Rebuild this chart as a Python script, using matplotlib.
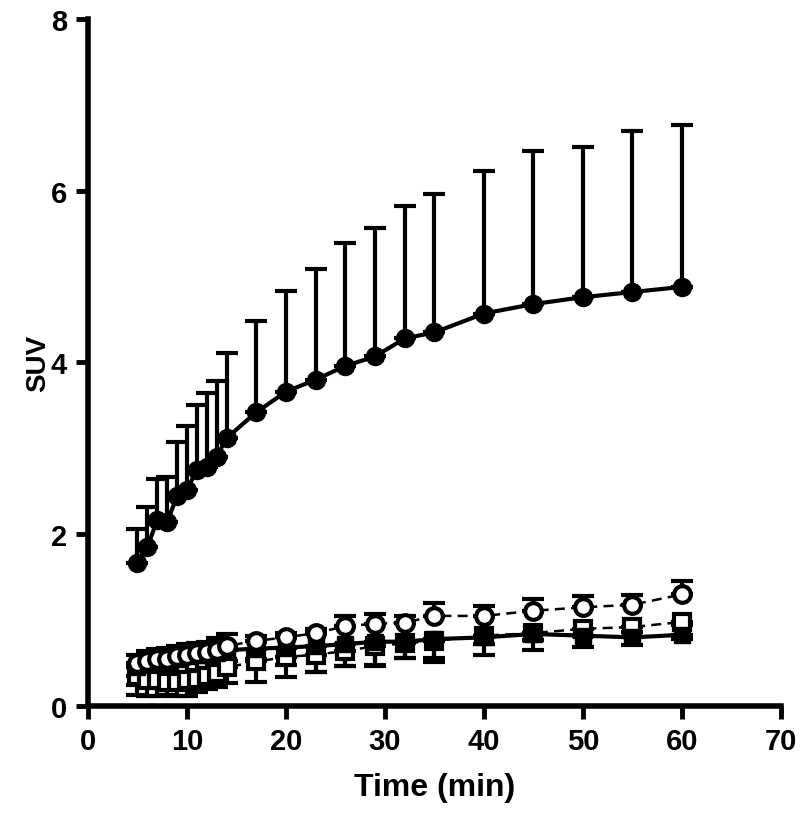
import matplotlib
matplotlib.use("Agg")
import matplotlib.pyplot as plt

# time points (min)
time = [5, 6, 7, 8, 9, 10, 11, 12, 13, 14, 17, 20, 23, 26, 29, 32, 35, 40, 45, 50, 55, 60]

# high uptake group (filled circles), mean and SD (shown upward only)
high_mean = [1.67, 1.85, 2.17, 2.14, 2.45, 2.52, 2.75, 2.78, 2.90, 3.12, 3.42, 3.66,
             3.80, 3.96, 4.07, 4.28, 4.35, 4.57, 4.68, 4.76, 4.82, 4.88]
high_top = [2.06, 2.32, 2.64, 2.67, 3.07, 3.26, 3.50, 3.64, 3.78, 4.11, 4.48, 4.83,
            5.09, 5.39, 5.57, 5.82, 5.96, 6.23, 6.46, 6.51, 6.69, 6.77]

# open circles (dashed)
circ_mean = [0.50, 0.52, 0.55, 0.55, 0.58, 0.60, 0.62, 0.63, 0.65, 0.70, 0.76, 0.80,
             0.85, 0.93, 0.96, 0.97, 1.05, 1.05, 1.11, 1.15, 1.18, 1.30]
circ_sd = [0.10, 0.12, 0.12, 0.13, 0.12, 0.12, 0.12, 0.12, 0.14, 0.14, 0.06, 0.05,
           0.05, 0.12, 0.11, 0.08, 0.15, 0.11, 0.14, 0.13, 0.11, 0.16]

# open squares (dashed)
osq_mean = [0.35, 0.30, 0.30, 0.28, 0.28, 0.30, 0.32, 0.35, 0.38, 0.45, 0.52, 0.57,
            0.60, 0.64, 0.70, 0.73, 0.76, 0.82, 0.85, 0.90, 0.92, 0.98]
osq_sd = [0.22, 0.18, 0.18, 0.15, 0.16, 0.18, 0.16, 0.15, 0.16, 0.18, 0.24, 0.23,
          0.20, 0.17, 0.22, 0.17, 0.20, 0.10, 0.08, 0.08, 0.06, 0.04]

# filled squares (solid)
fsq_mean = [0.45, 0.50, 0.52, 0.50, 0.55, 0.58, 0.60, 0.60, 0.62, 0.65, 0.67, 0.68,
            0.70, 0.72, 0.75, 0.75, 0.78, 0.80, 0.84, 0.82, 0.80, 0.83]
fsq_sd = [0.20, 0.22, 0.20, 0.18, 0.20, 0.18, 0.18, 0.16, 0.15, 0.12, 0.12, 0.20,
          0.30, 0.25, 0.28, 0.19, 0.27, 0.20, 0.19, 0.13, 0.09, 0.05]

plt.rcParams['font.family'] = ['Liberation Sans', 'DejaVu Sans']
plt.rcParams['font.weight'] = 'bold'

fig = plt.figure(figsize=(8, 8.28), dpi=100)
ax = fig.add_axes([0.11, 0.146, 0.866, 0.83])

lw = 3
cap = 8
high_up = [t - m for t, m in zip(high_top, high_mean)]

# low groups first
ax.errorbar(time, osq_mean, yerr=[osq_sd, [0] * len(time)], color='black', lw=1.8,
            ls=(0, (4, 2.5)), marker='s', ms=11, mfc='white', mec='black', mew=3,
            elinewidth=lw, capsize=cap, capthick=lw)
ax.errorbar(time, fsq_mean, yerr=[fsq_sd, [0] * len(time)], color='black', lw=lw,
            marker='s', ms=12, mfc='black', mec='black',
            elinewidth=lw, capsize=cap, capthick=lw)
ax.errorbar(time, circ_mean, yerr=[[0] * len(time), circ_sd], color='black', lw=1.8,
            ls=(0, (4, 2.5)), marker='o', ms=12, mfc='white', mec='black', mew=3,
            elinewidth=lw, capsize=cap, capthick=lw)
ax.errorbar(time, high_mean, yerr=[[0] * len(time), high_up], color='black', lw=lw,
            marker='o', ms=13, mfc='black', mec='black',
            elinewidth=lw, capsize=cap, capthick=lw)

ax.set_xlim(0, 70)
ax.set_ylim(0, 8)
ax.set_xticks(range(0, 71, 10))
ax.set_yticks(range(0, 9, 2))
for s in ['top', 'right']:
    ax.spines[s].set_visible(False)
for s in ['left', 'bottom']:
    ax.spines[s].set_linewidth(4)
ax.tick_params(width=3.5, length=9, labelsize=21, pad=6)
ax.set_xlabel('Time (min)', fontsize=23, fontweight='bold', labelpad=12)
ax.set_ylabel('SUV', fontsize=20, fontweight='bold', labelpad=0)

fig.savefig('out.png', dpi=100)
